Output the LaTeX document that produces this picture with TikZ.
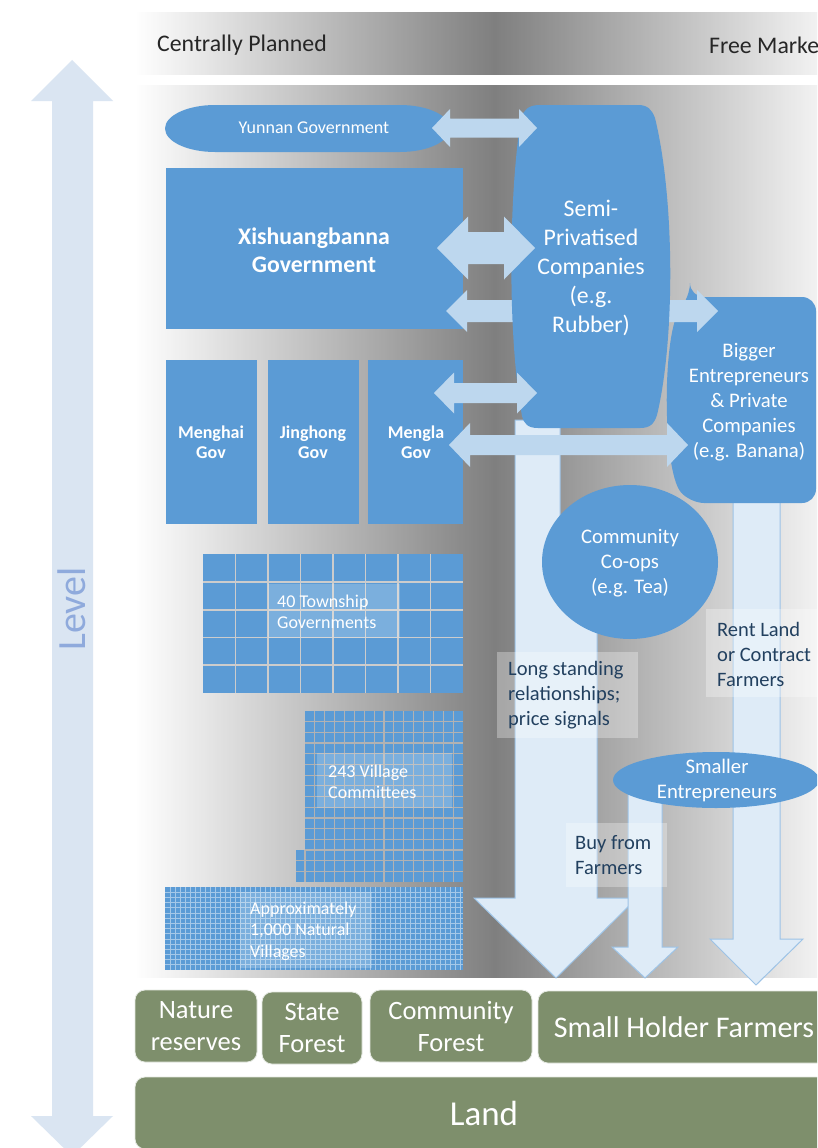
\documentclass[tikz,border=0pt]{standalone}
\usepackage{fontspec}
\setmainfont{Carlito}
\usetikzlibrary{shapes.geometric}
\definecolor{boxblue}{HTML}{5B9BD5}
\definecolor{arrblue}{HTML}{BDD7EE}
\definecolor{downfill}{HTML}{DEEBF7}
\definecolor{downline}{HTML}{9DC3E6}
\definecolor{levelfill}{HTML}{DAE5F2}
\definecolor{leveltext}{HTML}{8FAADC}
\definecolor{landgreen}{HTML}{7E8F6C}
\definecolor{labelnavy}{HTML}{22405F}
\definecolor{midgray}{HTML}{7F7F7F}
\newcommand\dblarrow[6]{%
  \fill[dblarr] (#1,#3) -- ({#1+#6},{#3-#5}) -- ({#1+#6},{#3-#4}) -- ({#2-#6},{#3-#4}) -- ({#2-#6},{#3-#5}) -- (#2,#3) -- ({#2-#6},{#3+#5}) -- ({#2-#6},{#3+#4}) -- ({#1+#6},{#3+#4}) -- ({#1+#6},{#3+#5}) -- cycle;}
\tikzset{
  bluefill/.style={fill=boxblue},
  dblarr/.style={fill=arrblue},
  downarr/.style={fill=downfill, draw=downline, line width=1pt},
  wtxt/.style={text=white, align=center, inner sep=0pt},
  ltxt/.style={text=white, align=left, inner sep=0pt, anchor=west, font=\fontsize{18}{21.5}\selectfont},
  navytxt/.style={text=labelnavy, align=left, inner sep=0pt, anchor=west, font=\fontsize{20.5}{25}\selectfont},
  bodyfont/.style={font=\fontsize{20.7}{25}\selectfont},
  govfont/.style={font=\bfseries\fontsize{18}{20.5}\selectfont},
  glassbox/.style={fill=white, opacity=0.2},
  labelbox/.style={fill=white, opacity=0.3},
  gridA/.style={draw=white!60!gray, line width=1.8pt},
  gridB/.style={draw=gray!60!white, line width=1.2pt},
  gridC/.style={draw=white!45!boxblue, line width=0.8pt},
  landbox/.style={fill=landgreen, draw=white!80!landgreen, line width=0.8pt, rounded corners=10pt, text=white, align=center, inner sep=0pt, font=\fontsize{26.5}{32}\selectfont},
}
\begin{document}
\begin{tikzpicture}[x=1pt, y=-1pt]
\useasboundingbox (0,0) rectangle (817,1148);
\clip (0,0) rectangle (817,1148);
\fill[white] (0,0) rectangle (817,1148);

% header and main panel: grey band gradient (white - grey - white)
\foreach \x in {135,137,...,853} {
  \pgfmathsetmacro\p{100*max(0,1-abs(\x+1-495)/360)}
  \fill[midgray!\p!white] (\x,12) rectangle ({\x+2.5},75);
  \fill[midgray!\p!white] (\x,85) rectangle ({\x+2.5},978);
}
\node[anchor=west, inner sep=0pt, font=\fontsize{23.8}{28}\selectfont, text=black!85] (cp) at (157,45) {Centrally Planned};
\node[anchor=west, inner sep=0pt, font=\fontsize{23.8}{28}\selectfont, text=black!85] (fm) at (709,45) {Free Market};

% level arrow
\fill[levelfill] (72,60) -- (113,101) -- (93,101) -- (93,1116) -- (113,1116) -- (72,1156) -- (31,1116) -- (52,1116) -- (52,101) -- (31,101) -- cycle;
\node[rotate=90, text=leveltext, inner sep=0pt, font=\fontsize{40}{48}\selectfont] (level) at (72,609) {Level};

% downward arrows
\draw[downarr] (733,495) -- (780,495) -- (780,939) -- (803,939) -- (756,985) -- (710,939) -- (733,939) -- cycle;
\draw[downarr] (515,420) -- (560,420) -- (560,540) -- (597,540) -- (597,898) -- (637,898) -- (556,978) -- (474,898) -- (515,898) -- cycle;
\draw[downarr] (628,790) -- (662,790) -- (662,947) -- (678,947) -- (645,978) -- (612,947) -- (628,947) -- cycle;

% government boxes
\fill[bluefill] (215,105) -- (400,105) arc[start angle=-90, end angle=90, x radius=50, y radius=23.5] -- (215,152) arc[start angle=90, end angle=270, x radius=50, y radius=23.5] -- cycle;
\node[wtxt, font=\fontsize{18}{21.5}\selectfont] (yunnan) at (314,128) {Yunnan Government};

\fill[bluefill] (166,168) rectangle (463,329);
\node[wtxt, font=\bfseries\fontsize{23.8}{28}\selectfont] (xish) at (314,250) {Xishuangbanna\\Government};

\fill[bluefill] (166,360) rectangle (257,524);
\fill[bluefill] (268,360) rectangle (359,524);
\fill[bluefill] (368,360) rectangle (463,524);
\node[wtxt, govfont] (menghai) at (211,442) {Menghai\\Gov};
\node[wtxt, govfont] (jinghong) at (313,442) {Jinghong\\Gov};
\node[wtxt, govfont] (mengla) at (416,442) {Mengla\\Gov};

% township grid
\fill[bluefill] (203,554) rectangle (463,693);
\foreach \i in {1,...,7} \draw[gridA] ({203+\i*32.5},554) -- ({203+\i*32.5},693);
\foreach \j in {1,...,4} \draw[gridA] (203,{554+\j*27.8}) -- (463,{554+\j*27.8});
\fill[glassbox] (268,584) rectangle (400,638);
\node[ltxt] (township) at (277,612) {40 Township\\Governments};

% village committee grid
\fill[bluefill] (305,711) rectangle (463,882);
\fill[bluefill] (296,850) rectangle (305,882);
\foreach \i in {1,...,15} \draw[gridB] ({305+\i*9.875},711) -- ({305+\i*9.875},882);
\draw[gridB] (305,850) -- (305,882);
\foreach \j in {1,...,15} \draw[gridB] (305,{711+\j*10.69}) -- (463,{711+\j*10.69});
\foreach \j in {14,15} \draw[gridB] (296,{711+\j*10.69}) -- (305,{711+\j*10.69});
\fill[glassbox] (317,753) rectangle (452,808);
\node[ltxt] (committees) at (328,782) {243 Village\\Committees};

% natural villages grid
\fill[bluefill] (165,887) rectangle (463,970);
\foreach \x in {170,175,...,460} \draw[gridC] (\x,887) -- (\x,970);
\foreach \j in {1,...,15} \draw[gridC] (165,{887+\j*5.19}) -- (463,{887+\j*5.19});
\fill[glassbox] (240,892) rectangle (372,968);
\node[ltxt] (villages) at (250,931) {Approximately\\1,000 Natural\\Villages};

% bigger entrepreneurs
\fill[bluefill, rounded corners=14pt] (690,297) -- (816,297) -- (816,503) -- (690,503) .. controls (662,470) and (662,330) .. (690,297) -- cycle;
\node[wtxt, bodyfont] (bigger) at (749,402) {Bigger\\Entrepreneurs\\\& Private\\Companies\\(e.g. Banana)};

% arrow behind semi-privatised
\dblarrow{446}{718}{311}{11}{21}{21}

% semi-privatised companies
\fill[bluefill] (540,105) -- (638,105) .. controls (648,105) and (652,110) .. (655,118)
  .. controls (675,200) and (675,340) .. (657,415) .. controls (654,424) and (650,428) .. (640,428)
  -- (538,428) .. controls (528,428) and (524,424) .. (522,416)
  .. controls (508,340) and (508,200) .. (521,118) .. controls (524,110) and (528,105) .. (540,105) -- cycle;
\node[wtxt, font=\fontsize{23.8}{29}\selectfont] (semi) at (591,268) {Semi-\\Privatised\\Companies\\(e.g.\\Rubber)};

% co-ops and smaller entrepreneurs
\fill[bluefill] (630,562) ellipse [x radius=88, y radius=77];
\node[wtxt, bodyfont] (coops) at (630,563) {Community\\Co-ops\\(e.g. Tea)};
\fill[bluefill] (716,780) ellipse [x radius=103, y radius=28];
\node[wtxt, bodyfont] (smaller) at (717,780) {Smaller\\Entrepreneurs};

% double arrows on top
\dblarrow{432}{537}{128}{9.5}{19}{18}
\dblarrow{437}{535}{248}{16}{31.5}{31}
\dblarrow{434}{537}{393}{10}{20.5}{20}
\dblarrow{449}{688}{445}{10}{22}{21}

% labels
\fill[labelbox] (497,652) rectangle (638,738);
\node[navytxt] (longlab) at (508,695) {Long standing\\relationships;\\price signals};
\fill[labelbox] (706,609) rectangle (817,697);
\node[navytxt] (rentlab) at (717,654) {Rent Land\\or Contract\\Farmers};
\fill[labelbox] (566,823) rectangle (667,887);
\node[navytxt] (buylab) at (575,855) {Buy from\\Farmers};

% land
\node[landbox, minimum width=122pt, minimum height=72pt] (nature) at (196,1026) {Nature\\reserves};
\node[landbox, minimum width=100pt, minimum height=72pt] (stateforest) at (312,1028) {State\\Forest};
\node[landbox, minimum width=162pt, minimum height=72pt] (commforest) at (451,1026) {Community\\Forest};
\node[landbox, minimum width=292pt, minimum height=72pt, font=\fontsize{30}{36}\selectfont] (smallholder) at (684,1027) {Small Holder Farmers};
\node[landbox, minimum width=698pt, minimum height=72pt, font=\fontsize{35}{42}\selectfont] (land) at (484,1113) {Land};
\end{tikzpicture}
\end{document}
